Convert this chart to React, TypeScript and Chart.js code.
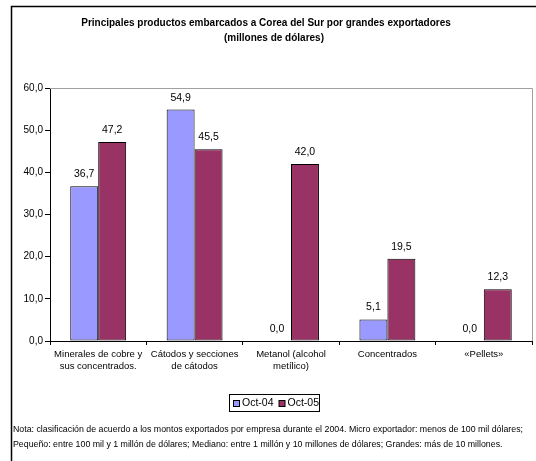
import React, { useEffect, useRef } from "react";
import { Chart, registerables } from "chart.js";

Chart.register(...registerables);

const categories: string[][] = [
  ["Minerales de cobre y", "sus concentrados."],
  ["Cátodos y secciones", "de cátodos"],
  ["Metanol (alcohol", "metílico)"],
  ["Concentrados"],
  ["«Pellets»"],
];
const seriesNames = ["Oct-04", "Oct-05"];
const oct04 = [36.7, 54.9, 0.0, 5.1, 0.0];
const oct05 = [47.2, 45.5, 42.0, 19.5, 12.3];
const colors = ["#9999FF", "#993366"];
const titleLines = [
  "Principales productos embarcados a Corea del Sur por grandes exportadores",
  "(millones de dólares)",
];
const noteLines = [
  "Nota: clasificación de acuerdo a los montos exportados por empresa durante el 2004. Micro exportador: menos de 100 mil dólares;",
  "Pequeño: entre 100 mil y 1 millón de dólares; Mediano: entre 1 millón y 10 millones de dólares; Grandes: más de 10 millones.",
];

const FONT = "'Liberation Sans', Arial, sans-serif";
const fmt = (v: number) => v.toFixed(1).replace(".", ",");

const W = 536;
const H = 461;

const decorPlugin = {
  id: "decor",
  beforeDraw(chart: any) {
    const ctx = chart.ctx;
    ctx.save();
    ctx.fillStyle = "#ffffff";
    ctx.fillRect(0, 0, W, H);
    ctx.restore();
  },
  afterDraw(chart: any) {
    const ctx = chart.ctx;
    const area = chart.chartArea;
    ctx.save();
    // outer frame
    ctx.strokeStyle = "#000";
    ctx.lineWidth = 1.5;
    ctx.beginPath();
    ctx.moveTo(11.5, H + 2);
    ctx.lineTo(11.5, 6.5);
    ctx.lineTo(W + 2, 6.5);
    ctx.stroke();
    // plot frame top/right gray
    ctx.strokeStyle = "#a0a0a0";
    ctx.lineWidth = 1;
    ctx.beginPath();
    ctx.moveTo(area.left, Math.round(area.top) + 0.5);
    ctx.lineTo(Math.round(area.right) + 0.5, Math.round(area.top) + 0.5);
    ctx.lineTo(Math.round(area.right) + 0.5, area.bottom);
    ctx.stroke();

    // title
    ctx.fillStyle = "#000";
    ctx.font = `bold 10px ${FONT}`;
    ctx.textAlign = "center";
    ctx.textBaseline = "middle";
    ctx.fillText(titleLines[0], 266, 23);
    ctx.fillText(titleLines[1], 274, 38);

    // data labels
    ctx.font = `10.5px ${FONT}`;
    ctx.textAlign = "center";
    ctx.textBaseline = "alphabetic";
    chart.data.datasets.forEach((ds: any, di: number) => {
      const meta = chart.getDatasetMeta(di);
      meta.data.forEach((el: any, i: number) => {
        ctx.fillText(fmt(ds.data[i]), el.x, el.y - 9);
      });
    });

    // legend
    const lx = 229, ly = 394, lw = 90, lh = 17;
    ctx.strokeStyle = "#000";
    ctx.lineWidth = 1;
    ctx.strokeRect(lx + 0.5, ly + 0.5, lw, lh);
    ctx.font = `10.5px ${FONT}`;
    ctx.textAlign = "left";
    ctx.textBaseline = "middle";
    let x = lx + 4;
    seriesNames.forEach((name, i) => {
      ctx.fillStyle = colors[i];
      ctx.fillRect(x + 0.5, ly + 6.5, 6, 6);
      ctx.strokeStyle = "#000";
      ctx.strokeRect(x + 0.5, ly + 6.5, 6, 6);
      ctx.fillStyle = "#000";
      ctx.fillText(name, x + 9, ly + 9.5);
      x += 9 + ctx.measureText(name).width + 5;
    });

    // notes
    ctx.font = `8.8px ${FONT}`;
    ctx.textAlign = "left";
    ctx.textBaseline = "middle";
    ctx.fillText(noteLines[0], 13, 430);
    ctx.fillText(noteLines[1], 13, 445);
    ctx.restore();
  },
};

export default function App() {
  const ref = useRef<HTMLCanvasElement | null>(null);
  useEffect(() => {
    if (!ref.current) return;
    const chart = new Chart(ref.current, {
      type: "bar",
      data: {
        labels: categories,
        datasets: [
          {
            label: seriesNames[0],
            data: oct04,
            backgroundColor: colors[0],
            borderColor: "#000",
            borderWidth: 1,
            borderSkipped: false,
          },
          {
            label: seriesNames[1],
            data: oct05,
            backgroundColor: colors[1],
            borderColor: "#000",
            borderWidth: 1,
            borderSkipped: false,
          },
        ],
      },
      options: {
        responsive: false,
        animation: false,
        devicePixelRatio: 1,
        layout: { padding: { left: 0, right: 4, top: 88, bottom: 0 } },
        datasets: { bar: { categoryPercentage: 0.58, barPercentage: 1 } } as any,
        plugins: {
          legend: { display: false },
          title: { display: false },
          tooltip: { enabled: false },
        },
        scales: {
          x: {
            grid: {
              offset: true,
              drawOnChartArea: false,
              tickLength: 4,
              color: "#000",
            },
            border: { color: "#000", width: 1 },
            ticks: {
              color: "#000",
              font: { family: FONT, size: 9.5 },
              padding: 4,
              maxRotation: 0,
              autoSkip: false,
            },
            afterFit: (s: any) => {
              s.height = 120;
            },
          },
          y: {
            min: 0,
            max: 60,
            grid: {
              drawOnChartArea: false,
              tickLength: 5,
              color: "#000",
            },
            border: { color: "#000", width: 1 },
            ticks: {
              stepSize: 10,
              color: "#000",
              font: { family: FONT, size: 10 },
              padding: 2,
              callback: (v: any) => fmt(Number(v)),
            },
            afterFit: (s: any) => {
              s.width = 50;
            },
          },
        },
      },
      plugins: [decorPlugin],
    });
    return () => chart.destroy();
  }, []);
  return (
    <div style={{ position: "fixed", left: 0, top: 0, width: W, height: H, background: "#fff" }}>
      <canvas ref={ref} width={W} height={H} style={{ display: "block", width: W, height: H }} />
    </div>
  );
}
